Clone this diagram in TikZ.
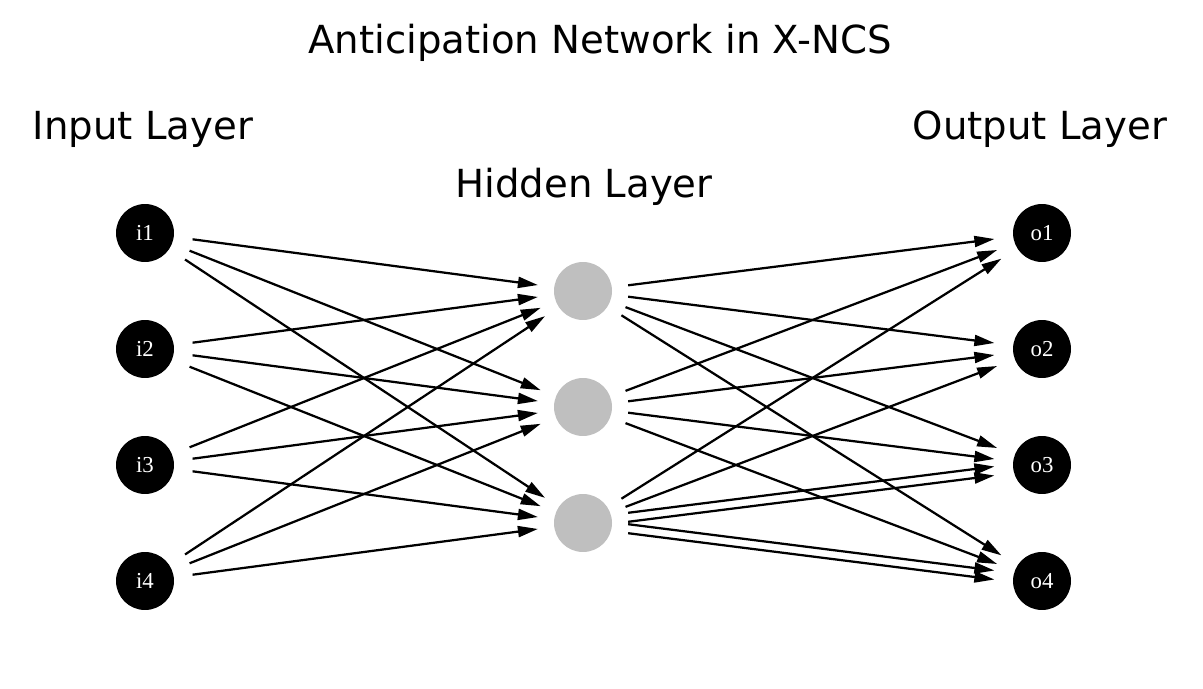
\documentclass[tikz,border=0pt]{standalone}
\usepackage{fontspec}
\setmainfont{DejaVu Sans}
\newfontfamily\nodefont{Liberation Serif}
\usetikzlibrary{arrows.meta, positioning}

\begin{document}
\begin{tikzpicture}[
      x=0.02cm, y=-0.02cm,
      innode/.style={circle, fill=black, minimum size=1.16cm, inner sep=0pt, outer sep=0.38cm, text=white, font=\nodefont\fontsize{13}{15}\selectfont},
      hidnode/.style={circle, fill=black!25, minimum size=1.16cm, inner sep=0pt, outer sep=0.33cm},
      outnode/.style={innode},
      layer/.style={font=\fontsize{22}{26}\selectfont},
      arrow/.style={-{Triangle[length=0.4cm, width=0.22cm]}, line width=0.045cm}
    ]
    \useasboundingbox[fill=white] (0,0) rectangle (1203,689);

    % labels
    \node[layer] (title) at (600,43) {Anticipation Network in X-NCS};
    \node[layer] (inlabel) at (143,129) {Input Layer};
    \node[layer] (hidlabel) at (584,187) {Hidden Layer};
    \node[layer] (outlabel) at (1040,129) {Output Layer};

    % input layer
    \node[innode] (i1) at (145,233) {i1};
    \node[innode] (i2) at (145,349) {i2};
    \node[innode] (i3) at (145,465) {i3};
    \node[innode] (i4) at (145,581) {i4};

    % hidden layer
    \node[hidnode] (h1) at (583,291) {};
    \node[hidnode] (h2) at (583,407) {};
    \node[hidnode] (h3) at (583,523) {};

    % output layer
    \node[outnode] (o1) at (1042,233) {o1};
    \node[outnode] (o2) at (1042,349) {o2};
    \node[outnode] (o3) at (1042,465) {o3};
    \node[outnode] (o4) at (1042,581) {o4};

    % input -> hidden
    \draw[arrow] (i1) -- (h1);
    \draw[arrow] (i1) -- (h2);
    \draw[arrow] (i1) -- (h3);
    \draw[arrow] (i2) -- (h1);
    \draw[arrow] (i2) -- (h2);
    \draw[arrow] (i2) -- (h3);
    \draw[arrow] (i3) -- (h1);
    \draw[arrow] (i3) -- (h2);
    \draw[arrow] (i3) -- (h3);
    \draw[arrow] (i4) -- (h1);
    \draw[arrow] (i4) -- (h2);
    \draw[arrow] (i4) -- (h3);

    % hidden -> output
    \draw[arrow] (h1) -- (o1);
    \draw[arrow] (h1) -- (o2);
    \draw[arrow] (h1) -- (o3);
    \draw[arrow] (h1) -- (o4);
    \draw[arrow] (h2) -- (o1);
    \draw[arrow] (h2) -- (o2);
    \draw[arrow] (h2) -- (o3);
    \draw[arrow] (h2) -- (o4);
    \draw[arrow] (h3) -- (o1);
    \draw[arrow] (h3) -- (o2);
    \draw[arrow, transform canvas={yshift=0.09cm}] (h3) -- (o3);
    \draw[arrow, transform canvas={yshift=-0.09cm}] (h3) -- (o3);
    \draw[arrow, transform canvas={yshift=0.09cm}] (h3) -- (o4);
    \draw[arrow, transform canvas={yshift=-0.09cm}] (h3) -- (o4);
  \end{tikzpicture}
\end{document}
